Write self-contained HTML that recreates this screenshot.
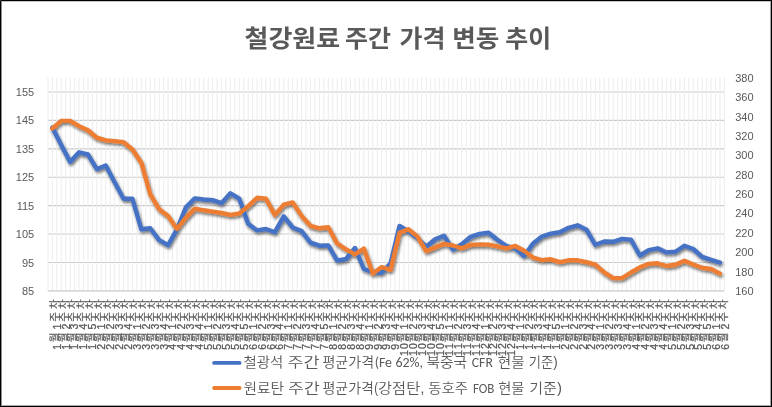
<!DOCTYPE html>
<html lang="ko"><head><meta charset="utf-8"><title>철강원료 주간 가격 변동 추이</title>
<style>html,body{margin:0;padding:0;background:#fff;}body{width:772px;height:407px;overflow:hidden;}svg{display:block;}text{font-family:'Liberation Sans', 'Noto Sans CJK KR', sans-serif;fill:#595959;}.d{stroke:#595959;stroke-width:0.3px;}.xl{stroke:#595959;stroke-width:0.2px;}</style></head><body>
<svg width="772" height="407" viewBox="0 0 772 407">
<defs><filter id="sh" x="-5%" y="-20%" width="110%" height="140%"><feGaussianBlur in="SourceAlpha" stdDeviation="1.6"/><feOffset dx="1" dy="2.4" result="b"/><feComponentTransfer><feFuncA type="linear" slope="0.55"/></feComponentTransfer><feMerge><feMergeNode/><feMergeNode in="SourceGraphic"/></feMerge></filter></defs>
<rect x="0" y="0" width="772" height="407" fill="#fff"/>
<path d="M47.9 262.49H724.4M47.9 234.07H724.4M47.9 205.66H724.4M47.9 177.25H724.4M47.9 148.83H724.4M47.9 120.42H724.4M47.9 92.01H724.4" stroke="#c9c9c9" stroke-width="1.1" fill="none"/>
<path d="M47.9 290.9H724.4" stroke="#d9d9d9" stroke-width="1.6" fill="none"/>
<path d="M47.90 77.8V290.1M52.35 77.8V290.1M56.80 77.8V290.1M61.25 77.8V290.1M65.70 77.8V290.1M70.15 77.8V290.1M74.60 77.8V290.1M79.05 77.8V290.1M83.51 77.8V290.1M87.96 77.8V290.1M92.41 77.8V290.1M96.86 77.8V290.1M101.31 77.8V290.1M105.76 77.8V290.1M110.21 77.8V290.1M114.66 77.8V290.1M119.11 77.8V290.1M123.56 77.8V290.1M128.01 77.8V290.1M132.46 77.8V290.1M136.91 77.8V290.1M141.36 77.8V290.1M145.81 77.8V290.1M150.27 77.8V290.1M154.72 77.8V290.1M159.17 77.8V290.1M163.62 77.8V290.1M168.07 77.8V290.1M172.52 77.8V290.1M176.97 77.8V290.1M181.42 77.8V290.1M185.87 77.8V290.1M190.32 77.8V290.1M194.77 77.8V290.1M199.22 77.8V290.1M203.67 77.8V290.1M208.12 77.8V290.1M212.57 77.8V290.1M217.03 77.8V290.1M221.48 77.8V290.1M225.93 77.8V290.1M230.38 77.8V290.1M234.83 77.8V290.1M239.28 77.8V290.1M243.73 77.8V290.1M248.18 77.8V290.1M252.63 77.8V290.1M257.08 77.8V290.1M261.53 77.8V290.1M265.98 77.8V290.1M270.43 77.8V290.1M274.88 77.8V290.1M279.33 77.8V290.1M283.78 77.8V290.1M288.24 77.8V290.1M292.69 77.8V290.1M297.14 77.8V290.1M301.59 77.8V290.1M306.04 77.8V290.1M310.49 77.8V290.1M314.94 77.8V290.1M319.39 77.8V290.1M323.84 77.8V290.1M328.29 77.8V290.1M332.74 77.8V290.1M337.19 77.8V290.1M341.64 77.8V290.1M346.09 77.8V290.1M350.54 77.8V290.1M355.00 77.8V290.1M359.45 77.8V290.1M363.90 77.8V290.1M368.35 77.8V290.1M372.80 77.8V290.1M377.25 77.8V290.1M381.70 77.8V290.1M386.15 77.8V290.1M390.60 77.8V290.1M395.05 77.8V290.1M399.50 77.8V290.1M403.95 77.8V290.1M408.40 77.8V290.1M412.85 77.8V290.1M417.30 77.8V290.1M421.76 77.8V290.1M426.21 77.8V290.1M430.66 77.8V290.1M435.11 77.8V290.1M439.56 77.8V290.1M444.01 77.8V290.1M448.46 77.8V290.1M452.91 77.8V290.1M457.36 77.8V290.1M461.81 77.8V290.1M466.26 77.8V290.1M470.71 77.8V290.1M475.16 77.8V290.1M479.61 77.8V290.1M484.06 77.8V290.1M488.52 77.8V290.1M492.97 77.8V290.1M497.42 77.8V290.1M501.87 77.8V290.1M506.32 77.8V290.1M510.77 77.8V290.1M515.22 77.8V290.1M519.67 77.8V290.1M524.12 77.8V290.1M528.57 77.8V290.1M533.02 77.8V290.1M537.47 77.8V290.1M541.92 77.8V290.1M546.37 77.8V290.1M550.82 77.8V290.1M555.28 77.8V290.1M559.73 77.8V290.1M564.18 77.8V290.1M568.63 77.8V290.1M573.08 77.8V290.1M577.53 77.8V290.1M581.98 77.8V290.1M586.43 77.8V290.1M590.88 77.8V290.1M595.33 77.8V290.1M599.78 77.8V290.1M604.23 77.8V290.1M608.68 77.8V290.1M613.13 77.8V290.1M617.58 77.8V290.1M622.03 77.8V290.1M626.49 77.8V290.1M630.94 77.8V290.1M635.39 77.8V290.1M639.84 77.8V290.1M644.29 77.8V290.1M648.74 77.8V290.1M653.19 77.8V290.1M657.64 77.8V290.1M662.09 77.8V290.1M666.54 77.8V290.1M670.99 77.8V290.1M675.44 77.8V290.1M679.89 77.8V290.1M684.34 77.8V290.1M688.79 77.8V290.1M693.25 77.8V290.1M697.70 77.8V290.1M702.15 77.8V290.1M706.60 77.8V290.1M711.05 77.8V290.1M715.50 77.8V290.1M719.95 77.8V290.1M724.40 77.8V290.1" stroke="#eeeeee" stroke-width="1.1" fill="none"/>
<g filter="url(#sh)" fill="none" stroke-linejoin="round" stroke-linecap="round" stroke-width="4.4">
<polyline points="52.35,127.50 61.25,145.10 70.15,161.90 79.05,152.30 87.96,154.50 96.86,169.10 105.76,165.50 114.66,182.30 123.56,198.80 132.46,198.80 141.36,229.30 150.27,228.30 159.17,240.10 168.07,245.10 176.97,229.30 185.87,207.30 194.77,198.40 203.67,199.50 212.57,200.20 221.48,203.20 230.38,193.30 239.28,198.70 248.18,223.80 257.08,230.40 265.98,229.00 274.88,232.20 283.78,216.40 292.69,227.50 301.59,231.10 310.49,242.70 319.39,245.70 328.29,245.40 337.19,260.70 346.09,259.00 355.00,248.00 363.90,269.00 372.80,272.00 381.70,272.70 390.60,263.30 399.50,225.90 408.40,231.30 417.30,237.90 426.21,246.70 435.11,239.30 444.01,235.70 452.91,249.50 461.81,244.20 470.71,236.80 479.61,233.90 488.52,232.70 497.42,239.80 506.32,246.00 515.22,248.30 524.12,256.00 533.02,243.50 541.92,236.50 550.82,233.60 559.73,232.30 568.63,227.80 577.53,225.30 586.43,229.70 595.33,244.80 604.23,241.50 613.13,241.80 622.03,238.90 630.94,239.60 639.84,255.50 648.74,250.10 657.64,248.30 666.54,252.40 675.44,251.70 684.34,245.70 693.25,249.00 702.15,256.90 711.05,259.90 719.95,262.60" stroke="#4472C4"/>
<polyline points="52.35,128.50 61.25,120.90 70.15,120.90 79.05,126.20 87.96,130.20 96.86,137.70 105.76,140.40 114.66,141.10 123.56,142.10 132.46,149.50 141.36,162.70 150.27,194.30 159.17,209.20 168.07,215.90 176.97,228.90 185.87,217.60 194.77,208.70 203.67,210.30 212.57,211.60 221.48,213.00 230.38,214.90 239.28,213.50 248.18,206.10 257.08,197.80 265.98,198.70 274.88,214.90 283.78,204.60 292.69,202.40 301.59,215.90 310.49,225.80 319.39,228.30 328.29,227.30 337.19,243.50 346.09,249.40 355.00,254.40 363.90,248.60 372.80,273.50 381.70,267.10 390.60,269.80 399.50,232.80 408.40,229.30 417.30,236.40 426.21,251.20 435.11,247.50 444.01,243.80 452.91,245.50 461.81,248.30 470.71,244.90 479.61,244.50 488.52,244.60 497.42,246.40 506.32,248.30 515.22,246.00 524.12,250.80 533.02,257.50 541.92,260.10 550.82,259.30 559.73,262.10 568.63,260.30 577.53,260.30 586.43,262.20 595.33,264.70 604.23,272.30 613.13,278.10 622.03,278.10 630.94,272.50 639.84,267.30 648.74,263.90 657.64,263.30 666.54,266.00 675.44,264.80 684.34,260.80 693.25,264.50 702.15,267.70 711.05,269.00 719.95,273.60" stroke="#ED7D31"/>
</g>
<text x="34.2" y="294.9" font-size="11" text-anchor="end">85</text>
<text x="34.2" y="266.5" font-size="11" text-anchor="end">95</text>
<text x="34.2" y="238.1" font-size="11" text-anchor="end">105</text>
<text x="34.2" y="209.7" font-size="11" text-anchor="end">115</text>
<text x="34.2" y="181.2" font-size="11" text-anchor="end">125</text>
<text x="34.2" y="152.8" font-size="11" text-anchor="end">135</text>
<text x="34.2" y="124.4" font-size="11" text-anchor="end">145</text>
<text x="34.2" y="96.0" font-size="11" text-anchor="end">155</text>
<text x="735.2" y="294.9" font-size="11">160</text>
<text x="735.2" y="275.5" font-size="11">180</text>
<text x="735.2" y="256.2" font-size="11">200</text>
<text x="735.2" y="236.8" font-size="11">220</text>
<text x="735.2" y="217.4" font-size="11">240</text>
<text x="735.2" y="198.0" font-size="11">260</text>
<text x="735.2" y="178.7" font-size="11">280</text>
<text x="735.2" y="159.3" font-size="11">300</text>
<text x="735.2" y="139.9" font-size="11">320</text>
<text x="735.2" y="120.5" font-size="11">340</text>
<text x="735.2" y="101.2" font-size="11">360</text>
<text x="735.2" y="81.8" font-size="11">380</text>
<text transform="translate(58.10,301.5) rotate(-90)" font-size="10.5" class="xl"><tspan x="-48.22" y="2.5" class="d">1</tspan><tspan x="-40.73" y="0">월</tspan><tspan x="-31.50" y="0"> </tspan><tspan x="-28.02" y="2.5" class="d">1</tspan><tspan x="-20.33" y="0">주</tspan><tspan x="-7.43" y="0">차</tspan></text>
<text transform="translate(67.01,301.5) rotate(-90)" font-size="10.5" class="xl"><tspan x="-48.22" y="2.5" class="d">1</tspan><tspan x="-40.73" y="0">월</tspan><tspan x="-31.50" y="0"> </tspan><tspan x="-28.02" y="2.5" class="d">2</tspan><tspan x="-20.33" y="0">주</tspan><tspan x="-7.43" y="0">차</tspan></text>
<text transform="translate(75.93,301.5) rotate(-90)" font-size="10.5" class="xl"><tspan x="-48.22" y="2.5" class="d">1</tspan><tspan x="-40.73" y="0">월</tspan><tspan x="-31.50" y="0"> </tspan><tspan x="-28.02" y="2.5" class="d">3</tspan><tspan x="-20.33" y="0">주</tspan><tspan x="-7.43" y="0">차</tspan></text>
<text transform="translate(84.84,301.5) rotate(-90)" font-size="10.5" class="xl"><tspan x="-48.22" y="2.5" class="d">1</tspan><tspan x="-40.73" y="0">월</tspan><tspan x="-31.50" y="0"> </tspan><tspan x="-28.02" y="2.5" class="d">4</tspan><tspan x="-20.33" y="0">주</tspan><tspan x="-7.43" y="0">차</tspan></text>
<text transform="translate(93.76,301.5) rotate(-90)" font-size="10.5" class="xl"><tspan x="-48.22" y="2.5" class="d">1</tspan><tspan x="-40.73" y="0">월</tspan><tspan x="-31.50" y="0"> </tspan><tspan x="-28.02" y="2.5" class="d">5</tspan><tspan x="-20.33" y="0">주</tspan><tspan x="-7.43" y="0">차</tspan></text>
<text transform="translate(102.67,301.5) rotate(-90)" font-size="10.5" class="xl"><tspan x="-48.22" y="2.5" class="d">2</tspan><tspan x="-40.73" y="0">월</tspan><tspan x="-31.50" y="0"> </tspan><tspan x="-28.02" y="2.5" class="d">1</tspan><tspan x="-20.33" y="0">주</tspan><tspan x="-7.43" y="0">차</tspan></text>
<text transform="translate(111.59,301.5) rotate(-90)" font-size="10.5" class="xl"><tspan x="-48.22" y="2.5" class="d">2</tspan><tspan x="-40.73" y="0">월</tspan><tspan x="-31.50" y="0"> </tspan><tspan x="-28.02" y="2.5" class="d">2</tspan><tspan x="-20.33" y="0">주</tspan><tspan x="-7.43" y="0">차</tspan></text>
<text transform="translate(120.50,301.5) rotate(-90)" font-size="10.5" class="xl"><tspan x="-48.22" y="2.5" class="d">2</tspan><tspan x="-40.73" y="0">월</tspan><tspan x="-31.50" y="0"> </tspan><tspan x="-28.02" y="2.5" class="d">3</tspan><tspan x="-20.33" y="0">주</tspan><tspan x="-7.43" y="0">차</tspan></text>
<text transform="translate(129.42,301.5) rotate(-90)" font-size="10.5" class="xl"><tspan x="-48.22" y="2.5" class="d">2</tspan><tspan x="-40.73" y="0">월</tspan><tspan x="-31.50" y="0"> </tspan><tspan x="-28.02" y="2.5" class="d">4</tspan><tspan x="-20.33" y="0">주</tspan><tspan x="-7.43" y="0">차</tspan></text>
<text transform="translate(138.33,301.5) rotate(-90)" font-size="10.5" class="xl"><tspan x="-48.22" y="2.5" class="d">3</tspan><tspan x="-40.73" y="0">월</tspan><tspan x="-31.50" y="0"> </tspan><tspan x="-28.02" y="2.5" class="d">1</tspan><tspan x="-20.33" y="0">주</tspan><tspan x="-7.43" y="0">차</tspan></text>
<text transform="translate(147.25,301.5) rotate(-90)" font-size="10.5" class="xl"><tspan x="-48.22" y="2.5" class="d">3</tspan><tspan x="-40.73" y="0">월</tspan><tspan x="-31.50" y="0"> </tspan><tspan x="-28.02" y="2.5" class="d">2</tspan><tspan x="-20.33" y="0">주</tspan><tspan x="-7.43" y="0">차</tspan></text>
<text transform="translate(156.16,301.5) rotate(-90)" font-size="10.5" class="xl"><tspan x="-48.22" y="2.5" class="d">3</tspan><tspan x="-40.73" y="0">월</tspan><tspan x="-31.50" y="0"> </tspan><tspan x="-28.02" y="2.5" class="d">3</tspan><tspan x="-20.33" y="0">주</tspan><tspan x="-7.43" y="0">차</tspan></text>
<text transform="translate(165.08,301.5) rotate(-90)" font-size="10.5" class="xl"><tspan x="-48.22" y="2.5" class="d">3</tspan><tspan x="-40.73" y="0">월</tspan><tspan x="-31.50" y="0"> </tspan><tspan x="-28.02" y="2.5" class="d">4</tspan><tspan x="-20.33" y="0">주</tspan><tspan x="-7.43" y="0">차</tspan></text>
<text transform="translate(173.99,301.5) rotate(-90)" font-size="10.5" class="xl"><tspan x="-48.22" y="2.5" class="d">4</tspan><tspan x="-40.73" y="0">월</tspan><tspan x="-31.50" y="0"> </tspan><tspan x="-28.02" y="2.5" class="d">1</tspan><tspan x="-20.33" y="0">주</tspan><tspan x="-7.43" y="0">차</tspan></text>
<text transform="translate(182.91,301.5) rotate(-90)" font-size="10.5" class="xl"><tspan x="-48.22" y="2.5" class="d">4</tspan><tspan x="-40.73" y="0">월</tspan><tspan x="-31.50" y="0"> </tspan><tspan x="-28.02" y="2.5" class="d">2</tspan><tspan x="-20.33" y="0">주</tspan><tspan x="-7.43" y="0">차</tspan></text>
<text transform="translate(191.82,301.5) rotate(-90)" font-size="10.5" class="xl"><tspan x="-48.22" y="2.5" class="d">4</tspan><tspan x="-40.73" y="0">월</tspan><tspan x="-31.50" y="0"> </tspan><tspan x="-28.02" y="2.5" class="d">3</tspan><tspan x="-20.33" y="0">주</tspan><tspan x="-7.43" y="0">차</tspan></text>
<text transform="translate(200.73,301.5) rotate(-90)" font-size="10.5" class="xl"><tspan x="-48.22" y="2.5" class="d">4</tspan><tspan x="-40.73" y="0">월</tspan><tspan x="-31.50" y="0"> </tspan><tspan x="-28.02" y="2.5" class="d">4</tspan><tspan x="-20.33" y="0">주</tspan><tspan x="-7.43" y="0">차</tspan></text>
<text transform="translate(209.65,301.5) rotate(-90)" font-size="10.5" class="xl"><tspan x="-48.22" y="2.5" class="d">5</tspan><tspan x="-40.73" y="0">월</tspan><tspan x="-31.50" y="0"> </tspan><tspan x="-28.02" y="2.5" class="d">1</tspan><tspan x="-20.33" y="0">주</tspan><tspan x="-7.43" y="0">차</tspan></text>
<text transform="translate(218.56,301.5) rotate(-90)" font-size="10.5" class="xl"><tspan x="-48.22" y="2.5" class="d">5</tspan><tspan x="-40.73" y="0">월</tspan><tspan x="-31.50" y="0"> </tspan><tspan x="-28.02" y="2.5" class="d">2</tspan><tspan x="-20.33" y="0">주</tspan><tspan x="-7.43" y="0">차</tspan></text>
<text transform="translate(227.48,301.5) rotate(-90)" font-size="10.5" class="xl"><tspan x="-48.22" y="2.5" class="d">5</tspan><tspan x="-40.73" y="0">월</tspan><tspan x="-31.50" y="0"> </tspan><tspan x="-28.02" y="2.5" class="d">3</tspan><tspan x="-20.33" y="0">주</tspan><tspan x="-7.43" y="0">차</tspan></text>
<text transform="translate(236.39,301.5) rotate(-90)" font-size="10.5" class="xl"><tspan x="-48.22" y="2.5" class="d">5</tspan><tspan x="-40.73" y="0">월</tspan><tspan x="-31.50" y="0"> </tspan><tspan x="-28.02" y="2.5" class="d">4</tspan><tspan x="-20.33" y="0">주</tspan><tspan x="-7.43" y="0">차</tspan></text>
<text transform="translate(245.31,301.5) rotate(-90)" font-size="10.5" class="xl"><tspan x="-48.22" y="2.5" class="d">5</tspan><tspan x="-40.73" y="0">월</tspan><tspan x="-31.50" y="0"> </tspan><tspan x="-28.02" y="2.5" class="d">5</tspan><tspan x="-20.33" y="0">주</tspan><tspan x="-7.43" y="0">차</tspan></text>
<text transform="translate(254.22,301.5) rotate(-90)" font-size="10.5" class="xl"><tspan x="-48.22" y="2.5" class="d">6</tspan><tspan x="-40.73" y="0">월</tspan><tspan x="-31.50" y="0"> </tspan><tspan x="-28.02" y="2.5" class="d">1</tspan><tspan x="-20.33" y="0">주</tspan><tspan x="-7.43" y="0">차</tspan></text>
<text transform="translate(263.14,301.5) rotate(-90)" font-size="10.5" class="xl"><tspan x="-48.22" y="2.5" class="d">6</tspan><tspan x="-40.73" y="0">월</tspan><tspan x="-31.50" y="0"> </tspan><tspan x="-28.02" y="2.5" class="d">2</tspan><tspan x="-20.33" y="0">주</tspan><tspan x="-7.43" y="0">차</tspan></text>
<text transform="translate(272.05,301.5) rotate(-90)" font-size="10.5" class="xl"><tspan x="-48.22" y="2.5" class="d">6</tspan><tspan x="-40.73" y="0">월</tspan><tspan x="-31.50" y="0"> </tspan><tspan x="-28.02" y="2.5" class="d">3</tspan><tspan x="-20.33" y="0">주</tspan><tspan x="-7.43" y="0">차</tspan></text>
<text transform="translate(280.97,301.5) rotate(-90)" font-size="10.5" class="xl"><tspan x="-48.22" y="2.5" class="d">6</tspan><tspan x="-40.73" y="0">월</tspan><tspan x="-31.50" y="0"> </tspan><tspan x="-28.02" y="2.5" class="d">4</tspan><tspan x="-20.33" y="0">주</tspan><tspan x="-7.43" y="0">차</tspan></text>
<text transform="translate(289.88,301.5) rotate(-90)" font-size="10.5" class="xl"><tspan x="-48.22" y="2.5" class="d">7</tspan><tspan x="-40.73" y="0">월</tspan><tspan x="-31.50" y="0"> </tspan><tspan x="-28.02" y="2.5" class="d">1</tspan><tspan x="-20.33" y="0">주</tspan><tspan x="-7.43" y="0">차</tspan></text>
<text transform="translate(298.80,301.5) rotate(-90)" font-size="10.5" class="xl"><tspan x="-48.22" y="2.5" class="d">7</tspan><tspan x="-40.73" y="0">월</tspan><tspan x="-31.50" y="0"> </tspan><tspan x="-28.02" y="2.5" class="d">2</tspan><tspan x="-20.33" y="0">주</tspan><tspan x="-7.43" y="0">차</tspan></text>
<text transform="translate(307.71,301.5) rotate(-90)" font-size="10.5" class="xl"><tspan x="-48.22" y="2.5" class="d">7</tspan><tspan x="-40.73" y="0">월</tspan><tspan x="-31.50" y="0"> </tspan><tspan x="-28.02" y="2.5" class="d">3</tspan><tspan x="-20.33" y="0">주</tspan><tspan x="-7.43" y="0">차</tspan></text>
<text transform="translate(316.63,301.5) rotate(-90)" font-size="10.5" class="xl"><tspan x="-48.22" y="2.5" class="d">7</tspan><tspan x="-40.73" y="0">월</tspan><tspan x="-31.50" y="0"> </tspan><tspan x="-28.02" y="2.5" class="d">4</tspan><tspan x="-20.33" y="0">주</tspan><tspan x="-7.43" y="0">차</tspan></text>
<text transform="translate(325.54,301.5) rotate(-90)" font-size="10.5" class="xl"><tspan x="-48.22" y="2.5" class="d">7</tspan><tspan x="-40.73" y="0">월</tspan><tspan x="-31.50" y="0"> </tspan><tspan x="-28.02" y="2.5" class="d">5</tspan><tspan x="-20.33" y="0">주</tspan><tspan x="-7.43" y="0">차</tspan></text>
<text transform="translate(334.45,301.5) rotate(-90)" font-size="10.5" class="xl"><tspan x="-48.22" y="2.5" class="d">8</tspan><tspan x="-40.73" y="0">월</tspan><tspan x="-31.50" y="0"> </tspan><tspan x="-28.02" y="2.5" class="d">1</tspan><tspan x="-20.33" y="0">주</tspan><tspan x="-7.43" y="0">차</tspan></text>
<text transform="translate(343.37,301.5) rotate(-90)" font-size="10.5" class="xl"><tspan x="-48.22" y="2.5" class="d">8</tspan><tspan x="-40.73" y="0">월</tspan><tspan x="-31.50" y="0"> </tspan><tspan x="-28.02" y="2.5" class="d">2</tspan><tspan x="-20.33" y="0">주</tspan><tspan x="-7.43" y="0">차</tspan></text>
<text transform="translate(352.28,301.5) rotate(-90)" font-size="10.5" class="xl"><tspan x="-48.22" y="2.5" class="d">8</tspan><tspan x="-40.73" y="0">월</tspan><tspan x="-31.50" y="0"> </tspan><tspan x="-28.02" y="2.5" class="d">3</tspan><tspan x="-20.33" y="0">주</tspan><tspan x="-7.43" y="0">차</tspan></text>
<text transform="translate(361.20,301.5) rotate(-90)" font-size="10.5" class="xl"><tspan x="-48.22" y="2.5" class="d">8</tspan><tspan x="-40.73" y="0">월</tspan><tspan x="-31.50" y="0"> </tspan><tspan x="-28.02" y="2.5" class="d">4</tspan><tspan x="-20.33" y="0">주</tspan><tspan x="-7.43" y="0">차</tspan></text>
<text transform="translate(370.11,301.5) rotate(-90)" font-size="10.5" class="xl"><tspan x="-48.22" y="2.5" class="d">9</tspan><tspan x="-40.73" y="0">월</tspan><tspan x="-31.50" y="0"> </tspan><tspan x="-28.02" y="2.5" class="d">1</tspan><tspan x="-20.33" y="0">주</tspan><tspan x="-7.43" y="0">차</tspan></text>
<text transform="translate(379.03,301.5) rotate(-90)" font-size="10.5" class="xl"><tspan x="-48.22" y="2.5" class="d">9</tspan><tspan x="-40.73" y="0">월</tspan><tspan x="-31.50" y="0"> </tspan><tspan x="-28.02" y="2.5" class="d">2</tspan><tspan x="-20.33" y="0">주</tspan><tspan x="-7.43" y="0">차</tspan></text>
<text transform="translate(387.94,301.5) rotate(-90)" font-size="10.5" class="xl"><tspan x="-48.22" y="2.5" class="d">9</tspan><tspan x="-40.73" y="0">월</tspan><tspan x="-31.50" y="0"> </tspan><tspan x="-28.02" y="2.5" class="d">3</tspan><tspan x="-20.33" y="0">주</tspan><tspan x="-7.43" y="0">차</tspan></text>
<text transform="translate(396.86,301.5) rotate(-90)" font-size="10.5" class="xl"><tspan x="-48.22" y="2.5" class="d">9</tspan><tspan x="-40.73" y="0">월</tspan><tspan x="-31.50" y="0"> </tspan><tspan x="-28.02" y="2.5" class="d">4</tspan><tspan x="-20.33" y="0">주</tspan><tspan x="-7.43" y="0">차</tspan></text>
<text transform="translate(405.77,301.5) rotate(-90)" font-size="10.5" class="xl"><tspan x="-54.62" y="2.5" class="d">1</tspan><tspan x="-47.42" y="2.5" class="d">0</tspan><tspan x="-40.73" y="0">월</tspan><tspan x="-31.50" y="0"> </tspan><tspan x="-28.02" y="2.5" class="d">1</tspan><tspan x="-20.33" y="0">주</tspan><tspan x="-7.43" y="0">차</tspan></text>
<text transform="translate(414.69,301.5) rotate(-90)" font-size="10.5" class="xl"><tspan x="-54.62" y="2.5" class="d">1</tspan><tspan x="-47.42" y="2.5" class="d">0</tspan><tspan x="-40.73" y="0">월</tspan><tspan x="-31.50" y="0"> </tspan><tspan x="-28.02" y="2.5" class="d">2</tspan><tspan x="-20.33" y="0">주</tspan><tspan x="-7.43" y="0">차</tspan></text>
<text transform="translate(423.60,301.5) rotate(-90)" font-size="10.5" class="xl"><tspan x="-54.62" y="2.5" class="d">1</tspan><tspan x="-47.42" y="2.5" class="d">0</tspan><tspan x="-40.73" y="0">월</tspan><tspan x="-31.50" y="0"> </tspan><tspan x="-28.02" y="2.5" class="d">3</tspan><tspan x="-20.33" y="0">주</tspan><tspan x="-7.43" y="0">차</tspan></text>
<text transform="translate(432.52,301.5) rotate(-90)" font-size="10.5" class="xl"><tspan x="-54.62" y="2.5" class="d">1</tspan><tspan x="-47.42" y="2.5" class="d">0</tspan><tspan x="-40.73" y="0">월</tspan><tspan x="-31.50" y="0"> </tspan><tspan x="-28.02" y="2.5" class="d">4</tspan><tspan x="-20.33" y="0">주</tspan><tspan x="-7.43" y="0">차</tspan></text>
<text transform="translate(441.43,301.5) rotate(-90)" font-size="10.5" class="xl"><tspan x="-54.62" y="2.5" class="d">1</tspan><tspan x="-47.42" y="2.5" class="d">0</tspan><tspan x="-40.73" y="0">월</tspan><tspan x="-31.50" y="0"> </tspan><tspan x="-28.02" y="2.5" class="d">5</tspan><tspan x="-20.33" y="0">주</tspan><tspan x="-7.43" y="0">차</tspan></text>
<text transform="translate(450.35,301.5) rotate(-90)" font-size="10.5" class="xl"><tspan x="-54.62" y="2.5" class="d">1</tspan><tspan x="-47.42" y="2.5" class="d">1</tspan><tspan x="-40.73" y="0">월</tspan><tspan x="-31.50" y="0"> </tspan><tspan x="-28.02" y="2.5" class="d">1</tspan><tspan x="-20.33" y="0">주</tspan><tspan x="-7.43" y="0">차</tspan></text>
<text transform="translate(459.26,301.5) rotate(-90)" font-size="10.5" class="xl"><tspan x="-54.62" y="2.5" class="d">1</tspan><tspan x="-47.42" y="2.5" class="d">1</tspan><tspan x="-40.73" y="0">월</tspan><tspan x="-31.50" y="0"> </tspan><tspan x="-28.02" y="2.5" class="d">2</tspan><tspan x="-20.33" y="0">주</tspan><tspan x="-7.43" y="0">차</tspan></text>
<text transform="translate(468.17,301.5) rotate(-90)" font-size="10.5" class="xl"><tspan x="-54.62" y="2.5" class="d">1</tspan><tspan x="-47.42" y="2.5" class="d">1</tspan><tspan x="-40.73" y="0">월</tspan><tspan x="-31.50" y="0"> </tspan><tspan x="-28.02" y="2.5" class="d">3</tspan><tspan x="-20.33" y="0">주</tspan><tspan x="-7.43" y="0">차</tspan></text>
<text transform="translate(477.09,301.5) rotate(-90)" font-size="10.5" class="xl"><tspan x="-54.62" y="2.5" class="d">1</tspan><tspan x="-47.42" y="2.5" class="d">1</tspan><tspan x="-40.73" y="0">월</tspan><tspan x="-31.50" y="0"> </tspan><tspan x="-28.02" y="2.5" class="d">4</tspan><tspan x="-20.33" y="0">주</tspan><tspan x="-7.43" y="0">차</tspan></text>
<text transform="translate(486.00,301.5) rotate(-90)" font-size="10.5" class="xl"><tspan x="-54.62" y="2.5" class="d">1</tspan><tspan x="-47.42" y="2.5" class="d">2</tspan><tspan x="-40.73" y="0">월</tspan><tspan x="-31.50" y="0"> </tspan><tspan x="-28.02" y="2.5" class="d">1</tspan><tspan x="-20.33" y="0">주</tspan><tspan x="-7.43" y="0">차</tspan></text>
<text transform="translate(494.92,301.5) rotate(-90)" font-size="10.5" class="xl"><tspan x="-54.62" y="2.5" class="d">1</tspan><tspan x="-47.42" y="2.5" class="d">2</tspan><tspan x="-40.73" y="0">월</tspan><tspan x="-31.50" y="0"> </tspan><tspan x="-28.02" y="2.5" class="d">2</tspan><tspan x="-20.33" y="0">주</tspan><tspan x="-7.43" y="0">차</tspan></text>
<text transform="translate(503.83,301.5) rotate(-90)" font-size="10.5" class="xl"><tspan x="-54.62" y="2.5" class="d">1</tspan><tspan x="-47.42" y="2.5" class="d">2</tspan><tspan x="-40.73" y="0">월</tspan><tspan x="-31.50" y="0"> </tspan><tspan x="-28.02" y="2.5" class="d">3</tspan><tspan x="-20.33" y="0">주</tspan><tspan x="-7.43" y="0">차</tspan></text>
<text transform="translate(512.75,301.5) rotate(-90)" font-size="10.5" class="xl"><tspan x="-54.62" y="2.5" class="d">1</tspan><tspan x="-47.42" y="2.5" class="d">2</tspan><tspan x="-40.73" y="0">월</tspan><tspan x="-31.50" y="0"> </tspan><tspan x="-28.02" y="2.5" class="d">4</tspan><tspan x="-20.33" y="0">주</tspan><tspan x="-7.43" y="0">차</tspan></text>
<text transform="translate(521.66,301.5) rotate(-90)" font-size="10.5" class="xl"><tspan x="-48.22" y="2.5" class="d">1</tspan><tspan x="-40.73" y="0">월</tspan><tspan x="-31.50" y="0"> </tspan><tspan x="-28.02" y="2.5" class="d">1</tspan><tspan x="-20.33" y="0">주</tspan><tspan x="-7.43" y="0">차</tspan></text>
<text transform="translate(530.58,301.5) rotate(-90)" font-size="10.5" class="xl"><tspan x="-48.22" y="2.5" class="d">1</tspan><tspan x="-40.73" y="0">월</tspan><tspan x="-31.50" y="0"> </tspan><tspan x="-28.02" y="2.5" class="d">2</tspan><tspan x="-20.33" y="0">주</tspan><tspan x="-7.43" y="0">차</tspan></text>
<text transform="translate(539.49,301.5) rotate(-90)" font-size="10.5" class="xl"><tspan x="-48.22" y="2.5" class="d">1</tspan><tspan x="-40.73" y="0">월</tspan><tspan x="-31.50" y="0"> </tspan><tspan x="-28.02" y="2.5" class="d">3</tspan><tspan x="-20.33" y="0">주</tspan><tspan x="-7.43" y="0">차</tspan></text>
<text transform="translate(548.41,301.5) rotate(-90)" font-size="10.5" class="xl"><tspan x="-48.22" y="2.5" class="d">1</tspan><tspan x="-40.73" y="0">월</tspan><tspan x="-31.50" y="0"> </tspan><tspan x="-28.02" y="2.5" class="d">4</tspan><tspan x="-20.33" y="0">주</tspan><tspan x="-7.43" y="0">차</tspan></text>
<text transform="translate(557.32,301.5) rotate(-90)" font-size="10.5" class="xl"><tspan x="-48.22" y="2.5" class="d">1</tspan><tspan x="-40.73" y="0">월</tspan><tspan x="-31.50" y="0"> </tspan><tspan x="-28.02" y="2.5" class="d">5</tspan><tspan x="-20.33" y="0">주</tspan><tspan x="-7.43" y="0">차</tspan></text>
<text transform="translate(566.24,301.5) rotate(-90)" font-size="10.5" class="xl"><tspan x="-48.22" y="2.5" class="d">2</tspan><tspan x="-40.73" y="0">월</tspan><tspan x="-31.50" y="0"> </tspan><tspan x="-28.02" y="2.5" class="d">1</tspan><tspan x="-20.33" y="0">주</tspan><tspan x="-7.43" y="0">차</tspan></text>
<text transform="translate(575.15,301.5) rotate(-90)" font-size="10.5" class="xl"><tspan x="-48.22" y="2.5" class="d">2</tspan><tspan x="-40.73" y="0">월</tspan><tspan x="-31.50" y="0"> </tspan><tspan x="-28.02" y="2.5" class="d">2</tspan><tspan x="-20.33" y="0">주</tspan><tspan x="-7.43" y="0">차</tspan></text>
<text transform="translate(584.07,301.5) rotate(-90)" font-size="10.5" class="xl"><tspan x="-48.22" y="2.5" class="d">2</tspan><tspan x="-40.73" y="0">월</tspan><tspan x="-31.50" y="0"> </tspan><tspan x="-28.02" y="2.5" class="d">3</tspan><tspan x="-20.33" y="0">주</tspan><tspan x="-7.43" y="0">차</tspan></text>
<text transform="translate(592.98,301.5) rotate(-90)" font-size="10.5" class="xl"><tspan x="-48.22" y="2.5" class="d">2</tspan><tspan x="-40.73" y="0">월</tspan><tspan x="-31.50" y="0"> </tspan><tspan x="-28.02" y="2.5" class="d">4</tspan><tspan x="-20.33" y="0">주</tspan><tspan x="-7.43" y="0">차</tspan></text>
<text transform="translate(601.89,301.5) rotate(-90)" font-size="10.5" class="xl"><tspan x="-48.22" y="2.5" class="d">3</tspan><tspan x="-40.73" y="0">월</tspan><tspan x="-31.50" y="0"> </tspan><tspan x="-28.02" y="2.5" class="d">1</tspan><tspan x="-20.33" y="0">주</tspan><tspan x="-7.43" y="0">차</tspan></text>
<text transform="translate(610.81,301.5) rotate(-90)" font-size="10.5" class="xl"><tspan x="-48.22" y="2.5" class="d">3</tspan><tspan x="-40.73" y="0">월</tspan><tspan x="-31.50" y="0"> </tspan><tspan x="-28.02" y="2.5" class="d">2</tspan><tspan x="-20.33" y="0">주</tspan><tspan x="-7.43" y="0">차</tspan></text>
<text transform="translate(619.72,301.5) rotate(-90)" font-size="10.5" class="xl"><tspan x="-48.22" y="2.5" class="d">3</tspan><tspan x="-40.73" y="0">월</tspan><tspan x="-31.50" y="0"> </tspan><tspan x="-28.02" y="2.5" class="d">3</tspan><tspan x="-20.33" y="0">주</tspan><tspan x="-7.43" y="0">차</tspan></text>
<text transform="translate(628.64,301.5) rotate(-90)" font-size="10.5" class="xl"><tspan x="-48.22" y="2.5" class="d">3</tspan><tspan x="-40.73" y="0">월</tspan><tspan x="-31.50" y="0"> </tspan><tspan x="-28.02" y="2.5" class="d">4</tspan><tspan x="-20.33" y="0">주</tspan><tspan x="-7.43" y="0">차</tspan></text>
<text transform="translate(637.55,301.5) rotate(-90)" font-size="10.5" class="xl"><tspan x="-48.22" y="2.5" class="d">4</tspan><tspan x="-40.73" y="0">월</tspan><tspan x="-31.50" y="0"> </tspan><tspan x="-28.02" y="2.5" class="d">1</tspan><tspan x="-20.33" y="0">주</tspan><tspan x="-7.43" y="0">차</tspan></text>
<text transform="translate(646.47,301.5) rotate(-90)" font-size="10.5" class="xl"><tspan x="-48.22" y="2.5" class="d">4</tspan><tspan x="-40.73" y="0">월</tspan><tspan x="-31.50" y="0"> </tspan><tspan x="-28.02" y="2.5" class="d">2</tspan><tspan x="-20.33" y="0">주</tspan><tspan x="-7.43" y="0">차</tspan></text>
<text transform="translate(655.38,301.5) rotate(-90)" font-size="10.5" class="xl"><tspan x="-48.22" y="2.5" class="d">4</tspan><tspan x="-40.73" y="0">월</tspan><tspan x="-31.50" y="0"> </tspan><tspan x="-28.02" y="2.5" class="d">3</tspan><tspan x="-20.33" y="0">주</tspan><tspan x="-7.43" y="0">차</tspan></text>
<text transform="translate(664.30,301.5) rotate(-90)" font-size="10.5" class="xl"><tspan x="-48.22" y="2.5" class="d">4</tspan><tspan x="-40.73" y="0">월</tspan><tspan x="-31.50" y="0"> </tspan><tspan x="-28.02" y="2.5" class="d">4</tspan><tspan x="-20.33" y="0">주</tspan><tspan x="-7.43" y="0">차</tspan></text>
<text transform="translate(673.21,301.5) rotate(-90)" font-size="10.5" class="xl"><tspan x="-48.22" y="2.5" class="d">5</tspan><tspan x="-40.73" y="0">월</tspan><tspan x="-31.50" y="0"> </tspan><tspan x="-28.02" y="2.5" class="d">1</tspan><tspan x="-20.33" y="0">주</tspan><tspan x="-7.43" y="0">차</tspan></text>
<text transform="translate(682.13,301.5) rotate(-90)" font-size="10.5" class="xl"><tspan x="-48.22" y="2.5" class="d">5</tspan><tspan x="-40.73" y="0">월</tspan><tspan x="-31.50" y="0"> </tspan><tspan x="-28.02" y="2.5" class="d">2</tspan><tspan x="-20.33" y="0">주</tspan><tspan x="-7.43" y="0">차</tspan></text>
<text transform="translate(691.04,301.5) rotate(-90)" font-size="10.5" class="xl"><tspan x="-48.22" y="2.5" class="d">5</tspan><tspan x="-40.73" y="0">월</tspan><tspan x="-31.50" y="0"> </tspan><tspan x="-28.02" y="2.5" class="d">3</tspan><tspan x="-20.33" y="0">주</tspan><tspan x="-7.43" y="0">차</tspan></text>
<text transform="translate(699.96,301.5) rotate(-90)" font-size="10.5" class="xl"><tspan x="-48.22" y="2.5" class="d">5</tspan><tspan x="-40.73" y="0">월</tspan><tspan x="-31.50" y="0"> </tspan><tspan x="-28.02" y="2.5" class="d">4</tspan><tspan x="-20.33" y="0">주</tspan><tspan x="-7.43" y="0">차</tspan></text>
<text transform="translate(708.87,301.5) rotate(-90)" font-size="10.5" class="xl"><tspan x="-48.22" y="2.5" class="d">5</tspan><tspan x="-40.73" y="0">월</tspan><tspan x="-31.50" y="0"> </tspan><tspan x="-28.02" y="2.5" class="d">5</tspan><tspan x="-20.33" y="0">주</tspan><tspan x="-7.43" y="0">차</tspan></text>
<text transform="translate(717.79,301.5) rotate(-90)" font-size="10.5" class="xl"><tspan x="-48.22" y="2.5" class="d">6</tspan><tspan x="-40.73" y="0">월</tspan><tspan x="-31.50" y="0"> </tspan><tspan x="-28.02" y="2.5" class="d">1</tspan><tspan x="-20.33" y="0">주</tspan><tspan x="-7.43" y="0">차</tspan></text>
<text transform="translate(726.70,301.5) rotate(-90)" font-size="10.5" class="xl"><tspan x="-48.22" y="2.5" class="d">6</tspan><tspan x="-40.73" y="0">월</tspan><tspan x="-31.50" y="0"> </tspan><tspan x="-28.02" y="2.5" class="d">2</tspan><tspan x="-20.33" y="0">주</tspan><tspan x="-7.43" y="0">차</tspan></text>
<text x="244.5" y="46.6" font-size="24" font-weight="bold" textLength="95.7" lengthAdjust="spacingAndGlyphs">철강원료</text>
<text x="345.0" y="46.6" font-size="24" font-weight="bold" textLength="46.0" lengthAdjust="spacingAndGlyphs">주간</text>
<text x="399.5" y="46.6" font-size="24" font-weight="bold" textLength="45.9" lengthAdjust="spacingAndGlyphs">가격</text>
<text x="452.3" y="46.6" font-size="24" font-weight="bold" textLength="47.0" lengthAdjust="spacingAndGlyphs">변동</text>
<text x="505.2" y="46.6" font-size="24" font-weight="bold" textLength="45.9" lengthAdjust="spacingAndGlyphs">추이</text>
<path d="M214.1 362.9H239.6" stroke="#4472C4" stroke-width="3.8" stroke-linecap="round"/>
<path d="M214.1 388H239.6" stroke="#ED7D31" stroke-width="3.8" stroke-linecap="round"/>
<text x="243.4" y="367.3" font-size="14.2" font-weight="350" textLength="39.8" lengthAdjust="spacingAndGlyphs">철광석</text>
<text x="287.4" y="367.3" font-size="14.2" font-weight="350" textLength="32.1" lengthAdjust="spacingAndGlyphs">주간</text>
<text x="322.4" y="367.3" font-size="14.2" font-weight="350" textLength="51.7" lengthAdjust="spacingAndGlyphs">평균가격</text>
<text x="374.7" y="367.3" font-size="14.2" style="font-family:Carlito, 'Liberation Sans', sans-serif" textLength="17.3" lengthAdjust="spacingAndGlyphs">(Fe</text>
<text x="395.4" y="367.3" font-size="14.2" style="font-family:Carlito, 'Liberation Sans', sans-serif" textLength="27.6" lengthAdjust="spacingAndGlyphs">62%,</text>
<text x="426.5" y="367.3" font-size="14.2" font-weight="350" textLength="40.5" lengthAdjust="spacingAndGlyphs">북중국</text>
<text x="471.8" y="367.3" font-size="14.2" style="font-family:Carlito, 'Liberation Sans', sans-serif" textLength="21.1" lengthAdjust="spacingAndGlyphs">CFR</text>
<text x="497.7" y="367.3" font-size="14.2" font-weight="350" textLength="26.9" lengthAdjust="spacingAndGlyphs">현물</text>
<text x="528.8" y="367.3" font-size="14.2" font-weight="350" textLength="28.9" lengthAdjust="spacingAndGlyphs">기준)</text>
<text x="243.4" y="392.8" font-size="14.2" font-weight="350" textLength="40.6" lengthAdjust="spacingAndGlyphs">원료탄</text>
<text x="288.1" y="392.8" font-size="14.2" font-weight="350" textLength="31.6" lengthAdjust="spacingAndGlyphs">주간</text>
<text x="322.4" y="392.8" font-size="14.2" font-weight="350" textLength="51.5" lengthAdjust="spacingAndGlyphs">평균가격</text>
<text x="374.2" y="392.8" font-size="14.2" font-weight="350" textLength="3.8" lengthAdjust="spacingAndGlyphs">(</text>
<text x="378.1" y="392.8" font-size="14.2" font-weight="350" textLength="46.3" lengthAdjust="spacingAndGlyphs">강점탄,</text>
<text x="428.2" y="392.8" font-size="14.2" font-weight="350" textLength="39.9" lengthAdjust="spacingAndGlyphs">동호주</text>
<text x="472.9" y="392.8" font-size="14.2" style="font-family:Carlito, 'Liberation Sans', sans-serif" textLength="21.4" lengthAdjust="spacingAndGlyphs">FOB</text>
<text x="498.2" y="392.8" font-size="14.2" font-weight="350" textLength="26.3" lengthAdjust="spacingAndGlyphs">현물</text>
<text x="529.3" y="392.8" font-size="14.2" font-weight="350" textLength="32.6" lengthAdjust="spacingAndGlyphs">기준)</text>
<rect x="1" y="1" width="770" height="1" fill="#c4c4c4"/>
<rect x="1" y="1" width="1" height="405" fill="#8c8c8c"/>
<rect x="770" y="1" width="1" height="405" fill="#a8a8a8"/>
<rect x="1" y="405" width="770" height="1" fill="#a8a8a8"/>
<rect x="0.5" y="0.5" width="771" height="406" fill="none" stroke="#000" stroke-width="1"/>
<rect x="0" y="0" width="1" height="1" fill="#444"/>
</svg></body></html>
